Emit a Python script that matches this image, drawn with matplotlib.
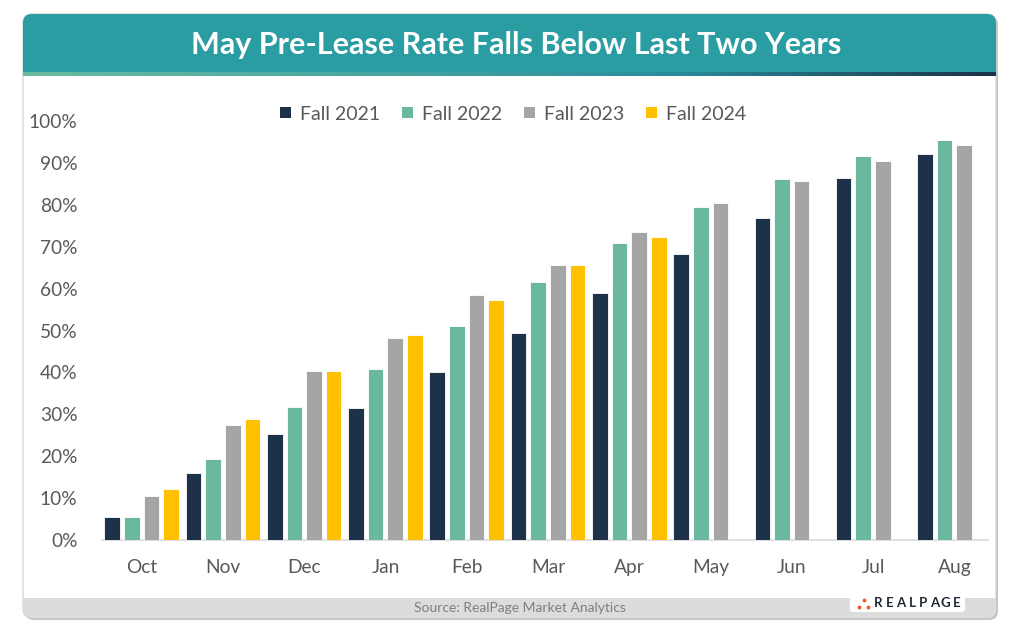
import matplotlib
matplotlib.use("Agg")
import matplotlib.pyplot as plt
import numpy as np
from matplotlib.patches import FancyBboxPatch, Rectangle, Patch
from matplotlib.colors import LinearSegmentedColormap

categories = ["Oct", "Nov", "Dec", "Jan", "Feb", "Mar", "Apr", "May", "Jun", "Jul", "Aug"]
series_names = ["Fall 2021", "Fall 2022", "Fall 2023", "Fall 2024"]
fall_2021 = [5.5, 16.0, 25.3, 31.5, 40.1, 49.4, 58.9, 68.3, 76.8, 86.4, 92.1]
fall_2022 = [5.5, 19.3, 31.7, 40.8, 51.1, 61.6, 70.9, 79.5, 86.2, 91.6, 95.5]
fall_2023 = [10.5, 27.4, 40.3, 48.2, 58.5, 65.6, 73.5, 80.4, 85.7, 90.5, 94.3]
fall_2024 = [12.2, 28.9, 40.3, 48.9, 57.3, 65.6, 72.3, None, None, None, None]
yticks = [0, 10, 20, 30, 40, 50, 60, 70, 80, 90, 100]
title = "May Pre-Lease Rate Falls Below Last Two Years"
source = "Source: RealPage Market Analytics"

colors = ["#1d3149", "#6bb8a0", "#a5a5a5", "#ffc000"]
FONT = ["Lato", "DejaVu Sans"]
plt.rcParams["font.family"] = FONT
TXT = "#595959"

W, H = 1020, 633
fig = plt.figure(figsize=(W / 100, H / 100), dpi=100)
fig.patch.set_facecolor("white")

# background axes in pixel coords
bg = fig.add_axes([0, 0, 1, 1])
bg.set_xlim(0, W)
bg.set_ylim(H, 0)
bg.axis("off")

cx0, cy0, cx1, cy1 = 23, 14, 996, 618
r = 9
shadow = FancyBboxPatch((cx0 + 2, cy0 + 2), cx1 - cx0, cy1 - cy0,
                        boxstyle=f"round,pad=0,rounding_size={r}",
                        fc="#c4c4c4", ec="none", zorder=0)
bg.add_patch(shadow)
card = FancyBboxPatch((cx0, cy0), cx1 - cx0, cy1 - cy0,
                      boxstyle=f"round,pad=0,rounding_size={r}",
                      fc="white", ec="#d0d0d0", lw=0.8, zorder=1)
bg.add_patch(card)

banner = Rectangle((cx0, cy0), cx1 - cx0, 58, fc="#2a9da3", ec="none", zorder=2)
bg.add_patch(banner)
banner.set_clip_path(card)

grad = np.linspace(0, 1, 256).reshape(1, -1)
cmap = LinearSegmentedColormap.from_list("g", ["#6bbba0", "#4aa8a2", "#2a8d9c", "#1d3149"])
im = bg.imshow(grad, extent=(cx0, cx1, 76, 72), cmap=cmap, aspect="auto", zorder=3)
im.set_clip_path(card)
bg.set_xlim(0, W)
bg.set_ylim(H, 0)

footer = Rectangle((cx0, 598), cx1 - cx0, 22, fc="#dcdcdc", ec="none", zorder=2)
bg.add_patch(footer)
footer.set_clip_path(card)

bg.text((cx0 + cx1) / 2 + 7, 45, title, color="white", fontsize=22, fontweight="bold",
        ha="center", va="center", zorder=5)
bg.text(520, 608, source, color="#7f7f7f", fontsize=10, ha="center", va="center", zorder=5)

logo = FancyBboxPatch((850, 590), 115, 22, boxstyle="round,pad=0,rounding_size=3",
                      fc="white", ec="none", zorder=4)
bg.add_patch(logo)
for k, ch in enumerate("REALPAGE"):
    bg.text(878 + k * 11.3, 603, ch, color="#1d2a36", fontsize=9.5, fontweight="bold",
            ha="center", va="center", zorder=5)
for (dx, dy) in [(859, 607), (864, 600), (868, 607)]:
    bg.plot(dx, dy, "o", color="#f05a28", ms=2.8, mec="none", zorder=6)

# chart axes
left, right = 101, 995
top, bottom = 121, 540
ax = fig.add_axes([left / W, 1 - bottom / H, (right - left) / W, (bottom - top) / H])
ax.set_facecolor("none")
x = np.arange(len(categories))
step = 19.6 / 81.2
bw = 15.6 / 81.2
all_series = [fall_2021, fall_2022, fall_2023, fall_2024]
for j, (vals, c) in enumerate(zip(all_series, colors)):
    v = np.array([np.nan if a is None else a for a in vals], dtype=float)
    ax.bar(x + (j - 1.5) * step, v, width=bw, color=c, edgecolor="white",
           linewidth=0.6, zorder=3)
ax.set_xlim(-0.5, len(categories) - 0.5)
ax.set_ylim(0, 100)
ax.set_yticks(yticks)
ax.set_yticklabels([f"{t}%" for t in yticks])
ax.set_xticks(x)
ax.set_xticklabels(categories)
for s in ["top", "right", "left"]:
    ax.spines[s].set_visible(False)
ax.spines["bottom"].set_color("#d9d9d9")
ax.spines["bottom"].set_linewidth(1.2)
ax.spines["bottom"].set_bounds(-0.49, 10.41)
ax.tick_params(axis="both", length=0, colors=TXT, labelsize=13.8)
ax.tick_params(axis="x", pad=14)
ax.tick_params(axis="y", pad=17)
for lab in ax.get_yticklabels():
    lab.set_horizontalalignment("right")

handles = [Patch(fc=c, ec="none") for c in colors]
leg = fig.legend(handles, series_names, loc="center", bbox_to_anchor=(513 / W, 1 - 114 / H),
                 ncol=4, frameon=False, fontsize=14, handlelength=0.55, handleheight=0.55,
                 handletextpad=0.45, columnspacing=1.15, labelcolor=TXT)

fig.savefig("out.png", dpi=100)
